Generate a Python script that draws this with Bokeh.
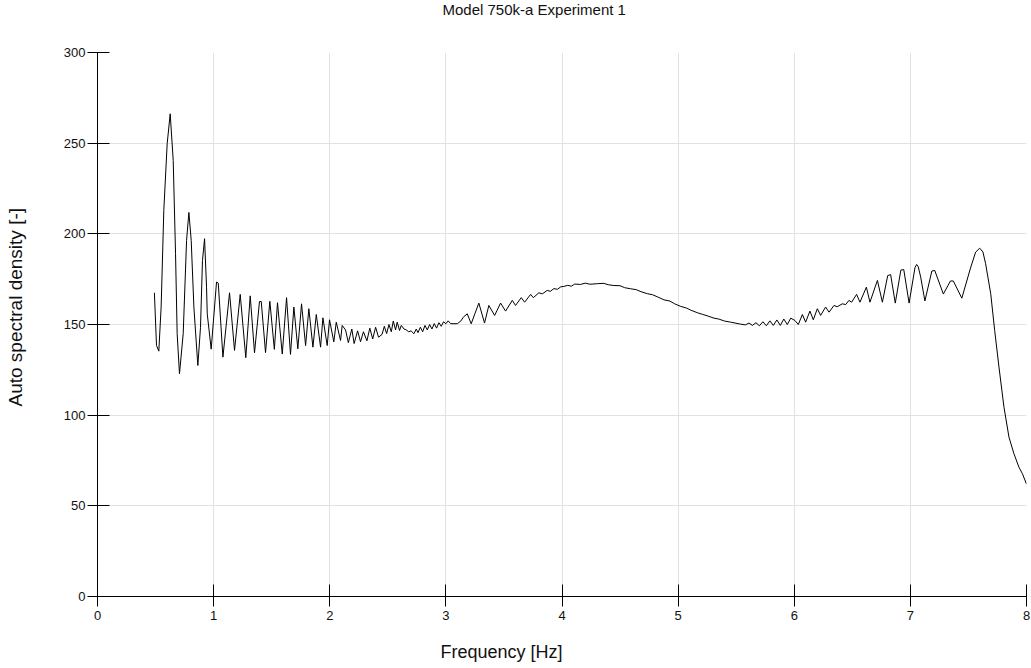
from bokeh.plotting import figure
from bokeh.models import Range1d, FixedTicker, Title
from bokeh.embed import file_html
from bokeh.resources import INLINE

title_text = "Model 750k-a Experiment 1"
x_label = "Frequency [Hz]"
y_label = "Auto spectral density  [-]"
x_ticks = [0, 1, 2, 3, 4, 5, 6, 7, 8]
y_ticks = [0, 50, 100, 150, 200, 250, 300]

freq = [
    0.49, 0.508, 0.528, 0.548, 0.571, 0.600, 0.626, 0.652, 0.672, 0.686, 0.706,
    0.738, 0.767, 0.787, 0.807, 0.830, 0.864, 0.887, 0.904, 0.922, 0.939, 0.945,
    0.979, 1.025, 1.040, 1.080, 1.137, 1.180, 1.229, 1.277, 1.315, 1.352, 1.395,
    1.410, 1.447, 1.484, 1.523, 1.550, 1.591, 1.628, 1.662, 1.691, 1.725, 1.757,
    1.792, 1.820, 1.855, 1.884, 1.921, 1.941, 1.978, 1.998, 2.035, 2.056, 2.093,
    2.107, 2.136, 2.160, 2.190, 2.210, 2.240, 2.265, 2.290, 2.320, 2.345, 2.370,
    2.395, 2.420, 2.450, 2.470, 2.490, 2.510, 2.530, 2.547, 2.567, 2.581, 2.601,
    2.616, 2.640, 2.660, 2.680, 2.700, 2.725, 2.745, 2.760, 2.780, 2.800, 2.820,
    2.840, 2.860, 2.880, 2.900, 2.920, 2.940, 2.960, 2.980, 3.000, 3.020, 3.040,
    3.070, 3.100, 3.130, 3.150, 3.184, 3.218, 3.250, 3.284, 3.333, 3.370, 3.420,
    3.471, 3.514, 3.572, 3.600, 3.649, 3.678, 3.730, 3.753, 3.801, 3.830, 3.873,
    3.900, 3.930, 3.960, 3.990, 4.016, 4.050, 4.080, 4.110, 4.160, 4.200, 4.240,
    4.304, 4.360, 4.400, 4.447, 4.500, 4.540, 4.591, 4.640, 4.680, 4.735, 4.780,
    4.820, 4.878, 4.930, 4.970, 5.022, 5.070, 5.110, 5.165, 5.210, 5.250, 5.309,
    5.350, 5.400, 5.452,
    5.538, 5.580, 5.610, 5.640, 5.670, 5.700, 5.730, 5.760, 5.790, 5.820, 5.850,
    5.880, 5.910, 5.940, 5.970, 6.006, 6.035, 6.070, 6.098, 6.135, 6.164, 6.199,
    6.227, 6.270, 6.300, 6.342, 6.370, 6.414, 6.443, 6.471, 6.494, 6.537, 6.566,
    6.621, 6.652, 6.716, 6.759, 6.805, 6.830, 6.870, 6.918, 6.943, 6.989, 7.040,
    7.054, 7.068, 7.089, 7.125, 7.185, 7.210, 7.284, 7.345, 7.370, 7.443, 7.520,
    7.562, 7.597, 7.625, 7.648, 7.692, 7.726, 7.763, 7.806, 7.849, 7.892, 7.935,
    7.965, 8.000,
]

density = [
    167.5, 138.5, 135.3, 159.6, 212.9, 249.7, 266.2, 240.5, 189.0, 144.9, 122.8,
    144.9, 196.4, 211.8, 196.4, 159.6, 127.4, 148.5, 185.3, 197.3, 170.6, 155.9,
    136.4, 173.4, 172.8, 132.0, 167.5, 135.7, 166.6, 131.7, 165.8, 134.4, 162.7,
    162.7, 134.5, 162.8, 136.3, 162.0, 133.7, 164.8, 133.5, 159.6, 136.6, 161.4,
    138.4, 158.7, 137.5, 155.5, 137.5, 153.7, 138.4, 152.6, 140.4, 151.3, 141.2,
    149.5, 147.0, 140.0, 147.5, 139.5, 146.5, 140.5, 146.0, 141.0, 148.0, 142.0,
    148.5, 143.0, 144.5, 149.0, 145.0, 150.0, 146.0, 151.9, 147.0, 151.3, 146.7,
    149.5, 147.5, 147.0, 146.0, 146.5, 144.9, 147.5, 145.5, 148.5, 146.0, 149.5,
    147.0, 150.0, 147.5, 150.5, 148.0, 151.0, 149.0, 151.5, 150.4, 152.0, 150.5,
    150.4, 150.5, 152.0, 154.0, 155.9, 150.4, 156.0, 161.8, 150.8, 160.5, 155.0,
    161.8, 157.4, 163.3, 160.5, 164.8, 162.3, 166.6, 164.8, 167.5, 166.9, 168.8,
    168.3, 169.8, 169.4, 170.8, 171.0, 171.6, 171.1, 172.3, 172.1, 172.8, 172.2,
    172.5, 172.7, 171.9, 171.5, 171.4, 170.3, 169.7, 169.2, 168.1, 167.0, 166.4,
    165.3, 163.6, 162.9, 161.4, 160.0, 159.1, 157.9, 156.5, 155.6, 154.8, 153.5,
    153.0, 151.9, 151.3,
    150.2, 149.8, 150.8, 149.5, 151.0, 149.3, 151.5, 149.3, 152.0, 149.5, 152.5,
    149.5, 153.0, 150.0, 153.5, 152.2, 150.0, 155.5, 151.3, 157.4, 152.6, 158.7,
    155.0, 159.6, 156.8, 160.5, 159.8, 161.4, 161.0, 163.3, 162.3, 166.6, 162.3,
    170.6, 162.3, 174.3, 162.3, 177.0, 177.5, 161.8, 180.0, 180.3, 161.8, 181.5,
    183.1, 181.8, 176.1, 163.0, 179.5, 179.8, 166.8, 174.0, 174.0, 164.5, 181.6,
    189.9, 192.1, 190.0, 183.5, 167.0, 146.7, 126.5, 104.4, 87.9, 78.7, 71.3,
    67.7, 62.0,
]

FONT = "Liberation Sans"

p = figure(
    width=1031, height=668,
    x_range=Range1d(0, 8), y_range=Range1d(0, 300),
    output_backend="svg", toolbar_location=None,
    min_border_left=97, min_border_right=5, min_border_top=52, min_border_bottom=72,
)
p.background_fill_color = "white"
p.border_fill_color = "white"
p.outline_line_color = None

p.line(freq, density, line_color="black", line_width=1)


def text_title(text, offset, size):
    return Title(
        text=text, align="left", offset=offset, standoff=0,
        vertical_align="top",
        text_font=FONT, text_font_size=size, text_font_style="normal",
        text_color="#111111",
    )


def spacer(gap):
    return Title(text=" ", text_font_size="1px", standoff=gap,
                 text_color="white")


# panels stack outward from the frame in the order they are added
p.add_layout(spacer(30), "above")
p.add_layout(text_title(title_text, 345, "15px"), "above")
p.add_layout(spacer(16), "below")
p.add_layout(text_title(x_label, 343, "18px"), "below")
p.add_layout(spacer(30), "left")
p.add_layout(text_title(y_label, 190, "19px"), "left")

for ax in (p.xaxis[0], p.yaxis[0]):
    ax.axis_line_color = "black"
    ax.axis_line_width = 1
    ax.major_tick_line_color = "black"
    ax.major_tick_in = 12
    ax.major_tick_out = 10
    ax.minor_tick_line_color = None
    ax.major_label_text_font = FONT
    ax.major_label_text_font_size = "13px"
    ax.major_label_text_color = "#111111"

p.xaxis[0].ticker = FixedTicker(ticks=x_ticks)
p.yaxis[0].ticker = FixedTicker(ticks=y_ticks)
p.xaxis[0].major_label_standoff = 4
p.yaxis[0].major_label_standoff = 2

p.xgrid.ticker = FixedTicker(ticks=x_ticks)
p.ygrid.ticker = FixedTicker(ticks=y_ticks)
p.grid.grid_line_color = "#e2e2e2"
p.grid.grid_line_width = 1

open("out.html", "w").write(file_html(p, INLINE))
